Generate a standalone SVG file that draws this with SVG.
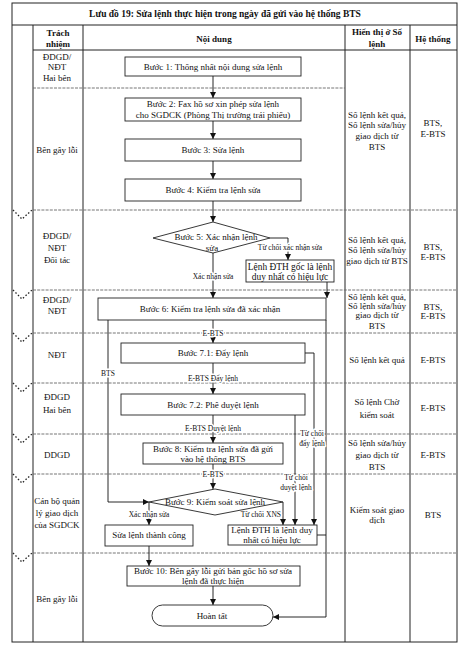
<svg xmlns="http://www.w3.org/2000/svg" width="467" height="646" viewBox="0 0 467 646">
<style>
text{font-family:"Liberation Serif","Times New Roman",serif;fill:#111}
.t{font-size:9px;text-anchor:middle}
.tb{font-size:9.4px;text-anchor:middle}
.h{font-size:9px;font-weight:bold;text-anchor:middle}
.ti{font-size:9.5px;font-weight:bold;text-anchor:middle}
.l{font-size:7.5px;text-anchor:middle;paint-order:stroke;stroke:#fff;stroke-width:3px;stroke-linejoin:round}
.box{fill:#fff;stroke:#222;stroke-width:0.9}
.grid{stroke:#222;stroke-width:1;fill:none}
.row{stroke:#666;stroke-width:0.9;stroke-dasharray:3 1.2;fill:none}
.chev{stroke:#222;stroke-width:1.3;stroke-dasharray:1.5 2;fill:none}
.c{stroke:#111;stroke-width:0.9;fill:none}
.a{marker-end:url(#ah)}
</style>
<defs>
<marker id="ah" markerWidth="6" markerHeight="6" refX="6" refY="3" orient="auto" markerUnits="userSpaceOnUse">
<path d="M0,0 L6,3 L0,6 z" fill="#111"/>
</marker>
</defs>
<rect width="467" height="646" fill="#fff"/>
<g id="table">
<rect class="grid" x="12" y="3" width="445" height="639"/>
<line class="grid" x1="12" y1="25" x2="457" y2="25"/>
<line class="grid" x1="33" y1="50" x2="457" y2="50"/>
<line class="grid" x1="33" y1="25" x2="33" y2="642"/>
<line class="grid" x1="83" y1="25" x2="83" y2="642"/>
<line class="grid" x1="345" y1="25" x2="345" y2="642"/>
<line class="grid" x1="410" y1="25" x2="410" y2="642"/>
<line class="row" x1="33" y1="88" x2="345" y2="88"/>
<line class="row" x1="33" y1="210" x2="457" y2="210"/>
<line class="row" x1="33" y1="290" x2="457" y2="290"/>
<line class="row" x1="33" y1="333" x2="457" y2="333"/>
<line class="row" x1="33" y1="383" x2="457" y2="383"/>
<line class="row" x1="33" y1="434" x2="457" y2="434"/>
<line class="row" x1="33" y1="474" x2="457" y2="474"/>
<line class="row" x1="33" y1="553" x2="457" y2="553"/>
<path class="chev" d="M13,210 L22,219 L32,210"/>
<path class="chev" d="M13,290 L22,299 L32,290"/>
<path class="chev" d="M13,333 L22,342 L32,333"/>
<path class="chev" d="M13,383 L22,392 L32,383"/>
<path class="chev" d="M13,434 L22,443 L32,434"/>
<path class="chev" d="M13,474 L22,483 L32,474"/>
<path class="chev" d="M13,553 L22,562 L32,553"/>
<text class="ti" x="225" y="17">Lưu đồ 19: Sửa lệnh thực hiện trong ngày đã gửi vào hệ thống BTS</text>
<text class="h" x="58" y="36">Trách</text>
<text class="h" x="58" y="47">nhiệm</text>
<text class="h" x="214" y="42">Nội dung</text>
<text class="h" x="377" y="35">Hiển thị ở Sổ</text>
<text class="h" x="377" y="47">lệnh</text>
<text class="h" x="433" y="42">Hệ thống</text>
<text class="t" x="57" y="60">ĐDGD/</text>
<text class="t" x="57" y="70">NĐT</text>
<text class="t" x="57" y="81">Hai bên</text>
<text class="t" x="57" y="153">Bên gây lỗi</text>
<text class="t" x="57" y="239">ĐDGD/</text>
<text class="t" x="57" y="251">NĐT</text>
<text class="t" x="57" y="263">Đối tác</text>
<text class="t" x="57" y="303">ĐDGD/</text>
<text class="t" x="57" y="314">NĐT</text>
<text class="t" x="57" y="358">NĐT</text>
<text class="t" x="57" y="400">ĐDGD</text>
<text class="t" x="57" y="413">Hai bên</text>
<text class="t" x="57" y="458">DDGD</text>
<text class="t" x="57" y="504">Cán bộ quản</text>
<text class="t" x="57" y="516">lý giao dịch</text>
<text class="t" x="57" y="528">của SGDCK</text>
<text class="t" x="57" y="602">Bên gây lỗi</text>
<text class="t" x="377" y="118">Số lệnh kết quả,</text>
<text class="t" x="377" y="128">Số lệnh sửa/hủy</text>
<text class="t" x="377" y="139">giao dịch từ</text>
<text class="t" x="377" y="150">BTS</text>
<text class="t" x="377" y="243">Số lệnh kết quả,</text>
<text class="t" x="377" y="253">Số lệnh sửa/hủy</text>
<text class="t" x="377" y="264">giao dịch từ BTS</text>
<text class="t" x="377" y="300">Số lệnh kết quả,</text>
<text class="t" x="377" y="309">Số lệnh sửa/hủy</text>
<text class="t" x="377" y="318">giao dịch từ</text>
<text class="t" x="377" y="329">BTS</text>
<text class="t" x="377" y="363">Số lệnh kết quả</text>
<text class="t" x="377" y="405">Số lệnh Chờ</text>
<text class="t" x="377" y="418">kiểm soát</text>
<text class="t" x="377" y="446">Số lệnh sửa/hủy</text>
<text class="t" x="377" y="458">giao dịch từ</text>
<text class="t" x="377" y="470">BTS</text>
<text class="t" x="377" y="513">Kiểm soát giao</text>
<text class="t" x="377" y="523">dịch</text>
<text class="t" x="433" y="126">BTS,</text>
<text class="t" x="433" y="137">E-BTS</text>
<text class="t" x="433" y="250">BTS,</text>
<text class="t" x="433" y="260">E-BTS</text>
<text class="t" x="433" y="310">BTS,</text>
<text class="t" x="433" y="319">E-BTS</text>
<text class="t" x="433" y="363">E-BTS</text>
<text class="t" x="433" y="411">E-BTS</text>
<text class="t" x="433" y="458">E-BTS</text>
<text class="t" x="433" y="518">BTS</text>
</g>
<g id="connectors">
<path class="c a" d="M213,76 L213,98"/>
<path class="c a" d="M213,121 L213,139"/>
<path class="c a" d="M213,161 L213,179"/>
<path class="c a" d="M213,201 L213,222"/>
<path class="c a" d="M270,238 L288,238 L288,260"/>
<path class="c a" d="M213,253 L213,298"/>
<path class="c a" d="M327,282 L327,298"/>
<path class="c a" d="M213,320 L213,343"/>
<path class="c a" d="M213,363 L213,394"/>
<path class="c a" d="M213,415 L213,443"/>
<path class="c a" d="M213,464 L213,489"/>
<path class="c a" d="M108,320 L108,502 L149,502"/>
<path class="c a" d="M149,502 L149,525"/>
<path class="c a" d="M283,502 L283,525"/>
<path class="c a" d="M295,415 L295,525"/>
<path class="c a" d="M305,353 L314,353 L314,525"/>
<path class="c a" d="M326,320 L326,617 L273,617"/>
<path class="c" d="M317,535 L326,535"/>
<path class="c a" d="M149,546 L149,566"/>
<path class="c a" d="M213,586 L213,605"/>
<text class="l" x="290" y="250">Từ chối xác nhận sửa</text>
<text class="l" x="213" y="279">Xác nhận sửa</text>
<text class="l" x="213" y="336">E-BTS</text>
<text class="l" x="213" y="381">E-BTS Đẩy lệnh</text>
<text class="l" x="213" y="431">E-BTS Duyệt lệnh</text>
<text class="l" x="213" y="477">E-BTS</text>
<text class="l" x="108" y="376">BTS</text>
<text class="l" x="149" y="517">Xác nhận sửa</text>
<text class="l" x="281" y="517" style="text-anchor:end">Từ chối XNS</text>
<text class="l" x="296" y="480">Từ chối</text>
<text class="l" x="296" y="490">duyệt lệnh</text>
<text class="l" x="312" y="436">Từ chối</text>
<text class="l" x="312" y="446">đẩy lệnh</text>
</g>
<g id="b1"><rect class="box" x="125" y="57" width="176" height="19"/><text class="t" x="213" y="70">Bước 1: Thống nhất nội dung sửa lệnh</text></g>
<g id="b2"><rect class="box" x="125" y="98" width="176" height="23"/><text class="t" x="213" y="107">Bước 2: Fax hồ sơ xin phép sửa lệnh</text><text class="t" x="213" y="118">cho SGDCK (Phòng Thị trường trái phiếu)</text></g>
<g id="b3"><rect class="box" x="125" y="139" width="176" height="22"/><text class="t" x="213" y="153">Bước 3: Sửa lệnh</text></g>
<g id="b4"><rect class="box" x="125" y="179" width="176" height="22"/><text class="t" x="213" y="193">Bước 4: Kiểm tra lệnh sửa</text></g>
<g id="b5"><polygon class="box" points="213,222 270,238 213,253 153,238"/><text class="t" x="216" y="240">Bước 5: Xác nhận lệnh</text><text class="t" x="212" y="251">sửa</text></g>
<g id="lenh1"><rect class="box" x="246" y="260" width="88" height="22"/><text class="tb" x="290" y="270">Lệnh ĐTH gốc là lệnh</text><text class="tb" x="290" y="280">duy nhất có hiệu lực</text></g>
<g id="b6"><rect class="box" x="98" y="298" width="228" height="22"/><text class="t" x="210" y="312">Bước 6: Kiểm tra lệnh sửa đã xác nhận</text></g>
<g id="b71"><rect class="box" x="121" y="343" width="184" height="20"/><text class="t" x="213" y="356">Bước 7.1: Đẩy lệnh</text></g>
<g id="b72"><rect class="box" x="121" y="394" width="184" height="21"/><text class="t" x="213" y="408">Bước 7.2: Phê duyệt lệnh</text></g>
<g id="b8"><rect class="box" x="143" y="443" width="140" height="21"/><text class="t" x="213" y="452">Bước 8: Kiểm tra lệnh sửa đã gửi</text><text class="t" x="213" y="462">vào hệ thống BTS</text></g>
<g id="b9"><polygon class="box" points="215,489 283,502 215,515 149,502"/><text class="t" x="215" y="505">Bước 9: Kiểm soát sửa lệnh</text></g>
<g id="sltc"><rect class="box" x="105" y="525" width="88" height="21"/><text class="t" x="149" y="538">Sửa lệnh thành công</text></g>
<g id="lenh2"><rect class="box" x="228" y="525" width="89" height="20"/><text class="t" x="272" y="533">Lệnh ĐTH là lệnh duy</text><text class="t" x="272" y="543">nhất có hiệu lực</text></g>
<g id="b10"><rect class="box" x="127" y="566" width="173" height="20"/><text class="t" x="213" y="574">Bước 10: Bên gây lỗi gửi bản gốc hồ sơ sửa</text><text class="t" x="213" y="584">lệnh đã thực hiện</text></g>
<g id="end"><rect class="box" x="152" y="605" width="121" height="21" rx="10.5"/><text class="t" x="212" y="619">Hoàn tất</text></g>
</svg>
